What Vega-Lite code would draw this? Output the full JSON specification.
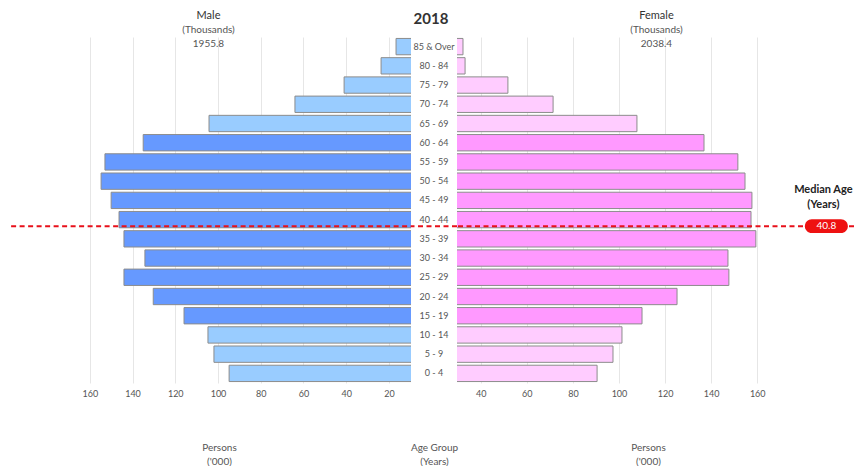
{
  "$schema": "https://vega.github.io/schema/vega-lite/v6.json",
  "background": "white",
  "padding": {"left": 0, "right": 0, "top": 10, "bottom": 0},
  "spacing": 0,
  "bounds": "flush",
  "resolve": {"scale": {"color": "independent"}},
  "config": {
    "view": {"stroke": null},
    "font": "Lato",
    "axis": {
      "ticks": false,
      "domain": false,
      "gridColor": "#e6e6e6",
      "gridWidth": 1,
      "labelFontSize": 9,
      "labelColor": "#555555",
      "labelPadding": 6,
      "titleFontSize": 10,
      "titleFontWeight": "normal",
      "titleColor": "#555555",
      "titleBaseline": "top",
      "titleLineHeight": 14,
      "titleY": 59
    }
  },
  "datasets": {
    "pop": [
      {"age": "85 & Over", "male": 16.7, "female": 32.3, "grp": "outer"},
      {"age": "80 - 84", "male": 23.7, "female": 33.2, "grp": "outer"},
      {"age": "75 - 79", "male": 41.0, "female": 51.8, "grp": "outer"},
      {"age": "70 - 74", "male": 64.0, "female": 71.4, "grp": "outer"},
      {"age": "65 - 69", "male": 104.2, "female": 107.8, "grp": "outer"},
      {"age": "60 - 64", "male": 135.0, "female": 136.9, "grp": "working"},
      {"age": "55 - 59", "male": 152.9, "female": 151.6, "grp": "working"},
      {"age": "50 - 54", "male": 154.7, "female": 154.7, "grp": "working"},
      {"age": "45 - 49", "male": 150.0, "female": 157.7, "grp": "working"},
      {"age": "40 - 44", "male": 146.3, "female": 157.3, "grp": "working"},
      {"age": "35 - 39", "male": 144.0, "female": 159.4, "grp": "working"},
      {"age": "30 - 34", "male": 134.2, "female": 147.3, "grp": "working"},
      {"age": "25 - 29", "male": 144.0, "female": 147.7, "grp": "working"},
      {"age": "20 - 24", "male": 130.3, "female": 125.2, "grp": "working"},
      {"age": "15 - 19", "male": 115.9, "female": 110.0, "grp": "working"},
      {"age": "10 - 14", "male": 104.7, "female": 101.3, "grp": "outer"},
      {"age": "5 - 9", "male": 101.9, "female": 97.4, "grp": "outer"},
      {"age": "0 - 4", "male": 94.8, "female": 90.5, "grp": "outer"}
    ],
    "med": [{"median": 40.8, "text": "40.8"}]
  },
  "hconcat": [
    {
      "width": 411,
      "height": 346,
      "title": {
        "text": "Male",
        "subtitle": ["(Thousands)", "1955.8"],
        "anchor": "middle",
        "fontSize": 11,
        "fontWeight": "normal",
        "color": "#333333",
        "subtitleFontSize": 10,
        "subtitleColor": "#555555",
        "subtitleLineHeight": 14,
        "subtitlePadding": 4,
        "offset": -12,
        "dx": 3
      },
      "layer": [
        {
          "data": {"name": "pop"},
          "mark": {"type": "bar", "clip": true, "stroke": "#8c8c8c", "strokeWidth": 1},
          "encoding": {
            "y": {
              "field": "age",
              "type": "nominal",
              "scale": {
                "domain": ["85 & Over", "80 - 84", "75 - 79", "70 - 74", "65 - 69", "60 - 64", "55 - 59", "50 - 54", "45 - 49", "40 - 44", "35 - 39", "30 - 34", "25 - 29", "20 - 24", "15 - 19", "10 - 14", "5 - 9", "0 - 4"],
                "paddingInner": 0.15,
                "paddingOuter": 0.075
              },
              "axis": null
            },
            "x": {
              "field": "male",
              "type": "quantitative",
              "scale": {"domain": [9.7, 202], "reverse": true, "nice": false, "zero": false},
              "axis": {
                "values": [20, 40, 60, 80, 100, 120, 140, 160],
                "title": ["Persons", "('000)"],
                "titleX": 219
              }
            },
            "x2": {"datum": 0},
            "color": {
              "field": "grp",
              "type": "nominal",
              "scale": {"domain": ["outer", "working"], "range": ["#99CCFF", "#6699FF"]},
              "legend": null
            }
          }
        },
        {
          "data": {"name": "med"},
          "mark": {"type": "rule", "color": "#E8101A", "strokeWidth": 2, "strokeDash": [5, 3.5]},
          "encoding": {
            "x": {"datum": 196.8, "type": "quantitative"},
            "x2": {"datum": 9.7},
            "y": {"field": "median", "type": "quantitative", "scale": {"domain": [0, 90], "nice": false, "zero": false}, "axis": null}
          }
        }
      ],
      "resolve": {"scale": {"y": "independent"}}
    },
    {
      "width": 46,
      "height": 346,
      "title": {
        "text": "2018",
        "anchor": "middle",
        "fontSize": 15,
        "fontWeight": "bold",
        "color": "#333333",
        "offset": 10,
        "dx": -3
      },
      "layer": [
        {
          "data": {"name": "pop"},
          "mark": {"type": "text", "fontSize": 9, "color": "#555555"},
          "encoding": {
            "y": {
              "field": "age",
              "type": "nominal",
              "scale": {
                "domain": ["85 & Over", "80 - 84", "75 - 79", "70 - 74", "65 - 69", "60 - 64", "55 - 59", "50 - 54", "45 - 49", "40 - 44", "35 - 39", "30 - 34", "25 - 29", "20 - 24", "15 - 19", "10 - 14", "5 - 9", "0 - 4"],
                "paddingInner": 0.15,
                "paddingOuter": 0.075
              },
              "axis": null
            },
            "x": {
              "datum": 0,
              "type": "quantitative",
              "scale": {"domain": [-1, 1]},
              "axis": {"title": ["Age Group", "(Years)"], "labels": false, "grid": false}
            },
            "text": {"field": "age"}
          }
        },
        {
          "data": {"name": "med"},
          "mark": {"type": "rule", "color": "#E8101A", "strokeWidth": 2, "strokeDash": [5, 3.5]},
          "encoding": {
            "y": {"field": "median", "type": "quantitative", "scale": {"domain": [0, 90], "nice": false, "zero": false}, "axis": null}
          }
        }
      ],
      "resolve": {"scale": {"y": "independent"}}
    },
    {
      "width": 397,
      "height": 346,
      "title": {
        "text": "Female",
        "subtitle": ["(Thousands)", "2038.4"],
        "anchor": "middle",
        "fontSize": 11,
        "fontWeight": "normal",
        "color": "#333333",
        "subtitleFontSize": 10,
        "subtitleColor": "#555555",
        "subtitleLineHeight": 14,
        "subtitlePadding": 4,
        "offset": -12,
        "dx": 1
      },
      "layer": [
        {
          "data": {"name": "pop"},
          "mark": {"type": "bar", "clip": true, "stroke": "#8c8c8c", "strokeWidth": 1},
          "encoding": {
            "y": {
              "field": "age",
              "type": "nominal",
              "scale": {
                "domain": ["85 & Over", "80 - 84", "75 - 79", "70 - 74", "65 - 69", "60 - 64", "55 - 59", "50 - 54", "45 - 49", "40 - 44", "35 - 39", "30 - 34", "25 - 29", "20 - 24", "15 - 19", "10 - 14", "5 - 9", "0 - 4"],
                "paddingInner": 0.15,
                "paddingOuter": 0.075
              },
              "axis": null
            },
            "x": {
              "field": "female",
              "type": "quantitative",
              "scale": {"domain": [29.7, 202], "nice": false, "zero": false},
              "axis": {
                "values": [40, 60, 80, 100, 120, 140, 160],
                "title": ["Persons", "('000)"],
                "titleX": 191
              }
            },
            "x2": {"datum": 0},
            "color": {
              "field": "grp",
              "type": "nominal",
              "scale": {"domain": ["outer", "working"], "range": ["#FFCCFF", "#FF99FF"]},
              "legend": null
            }
          }
        },
        {
          "data": {"name": "med"},
          "mark": {"type": "rule", "color": "#E8101A", "strokeWidth": 2, "strokeDash": [5, 3.5]},
          "encoding": {
            "y": {"field": "median", "type": "quantitative", "scale": {"domain": [0, 90], "nice": false, "zero": false}, "axis": null}
          }
        },
        {
          "data": {"name": "med"},
          "mark": {
            "type": "point",
            "shape": "M-0.7,-0.33 L0.7,-0.33 A0.33,0.33 0 0 1 0.7,0.33 L-0.7,0.33 A0.33,0.33 0 0 1 -0.7,-0.33 Z",
            "size": 1740,
            "filled": true,
            "color": "#EE1111",
            "opacity": 1,
            "strokeWidth": 0
          },
          "encoding": {
            "x": {"datum": 190, "type": "quantitative"},
            "y": {"field": "median", "type": "quantitative", "scale": {"domain": [0, 90], "nice": false, "zero": false}, "axis": null}
          }
        },
        {
          "data": {"name": "med"},
          "mark": {"type": "text", "color": "white", "fontSize": 10, "baseline": "middle"},
          "encoding": {
            "x": {"datum": 190, "type": "quantitative"},
            "y": {"field": "median", "type": "quantitative", "scale": {"domain": [0, 90], "nice": false, "zero": false}, "axis": null},
            "text": {"field": "text"}
          }
        },
        {
          "data": {"name": "med"},
          "mark": {"type": "text", "color": "#222222", "fontSize": 11, "fontWeight": "bold", "baseline": "bottom", "dy": -31, "dx": -3, "lineHeight": 15},
          "encoding": {
            "x": {"datum": 190, "type": "quantitative"},
            "y": {"field": "median", "type": "quantitative", "scale": {"domain": [0, 90], "nice": false, "zero": false}, "axis": null},
            "text": {"value": ["Median Age", "(Years)"]}
          }
        }
      ],
      "resolve": {"scale": {"y": "independent"}}
    }
  ]
}
